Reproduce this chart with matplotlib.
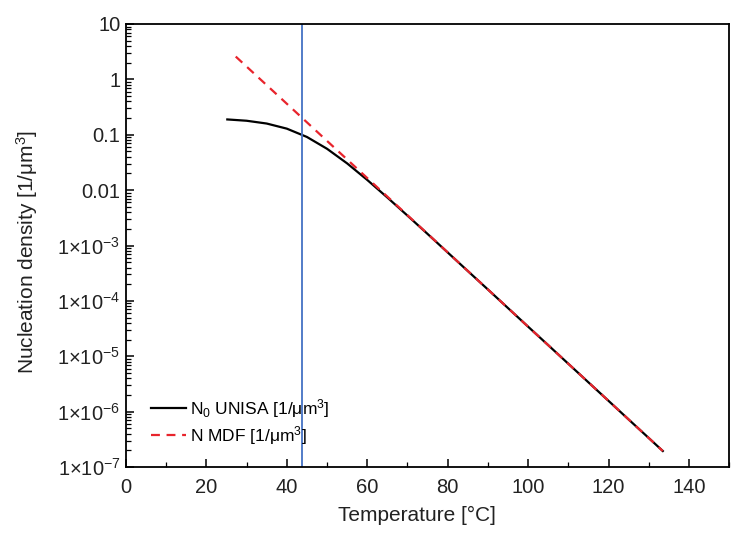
import numpy as np
import matplotlib
matplotlib.use('Agg')
import matplotlib.pyplot as plt
from matplotlib.ticker import FixedLocator, LogLocator, MultipleLocator, NullFormatter

plt.rcParams['font.family'] = ['Liberation Sans', 'DejaVu Sans']
plt.rcParams['mathtext.fontset'] = 'custom'
plt.rcParams['mathtext.rm'] = 'Liberation Sans'
plt.rcParams['mathtext.it'] = 'Liberation Sans:italic'

# N0 UNISA (black solid)
temp_unisa = [25.2, 30, 35, 40, 45, 50, 55, 60, 65, 70, 75, 80, 85, 90, 95,
              100, 105, 110, 115, 120, 125, 130, 133.5]
n_unisa = [0.189, 0.179, 0.1594, 0.1289, 0.0912, 0.0558, 0.0304, 0.01528,
           0.00736, 0.00347, 0.00162, 7.50e-4, 3.47e-4, 1.61e-4, 7.43e-5,
           3.43e-5, 1.59e-5, 7.34e-6, 3.39e-6, 1.57e-6, 7.24e-7, 3.35e-7, 1.95e-7]

# N MDF (red dashed)
temp_mdf = [27.3, 30, 35, 40, 45, 50, 55, 60, 65, 70, 75, 80, 85, 90, 95,
            100, 105, 110, 115, 120, 125, 130, 133.5]
n_mdf = [2.58, 1.70, 0.785, 0.363, 0.1676, 0.0774, 0.0358, 0.01654, 0.00764,
         0.00353, 0.00163, 7.53e-4, 3.48e-4, 1.61e-4, 7.43e-5, 3.43e-5,
         1.59e-5, 7.34e-6, 3.39e-6, 1.57e-6, 7.24e-7, 3.35e-7, 1.95e-7]

t_line = 43.8

y_ticks = [1e-7, 1e-6, 1e-5, 1e-4, 1e-3, 1e-2, 1e-1, 1, 10]
y_labels = [r'1$\times$10$^{-7}$', r'1$\times$10$^{-6}$', r'1$\times$10$^{-5}$',
            r'1$\times$10$^{-4}$', r'1$\times$10$^{-3}$', '0.01', '0.1', '1', '10']

fig = plt.figure(figsize=(7.41, 5.45), dpi=100)
ax = fig.add_axes([0.170, 0.143, 0.814, 0.813])

ax.plot(temp_unisa, n_unisa, color='black', lw=1.6, label=r'N$_0$ UNISA [1/$\mathrm{\mu}$m$^3$]')
ax.plot(temp_mdf, n_mdf, color='#e8242c', lw=1.6, ls=(0, (4, 3)), label=r'N MDF [1/$\mathrm{\mu}$m$^3$]')
ax.axvline(t_line, color='#4472c4', lw=1.3)

ax.set_yscale('log')
ax.set_xlim(0, 150)
ax.set_ylim(1e-7, 10)

ax.xaxis.set_major_locator(FixedLocator([0, 20, 40, 60, 80, 100, 120, 140]))
ax.xaxis.set_minor_locator(MultipleLocator(10))
ax.yaxis.set_major_locator(FixedLocator(y_ticks))
ax.set_yticklabels(y_labels)
ax.yaxis.set_minor_locator(LogLocator(base=10, subs=np.arange(2, 10), numticks=20))
ax.yaxis.set_minor_formatter(NullFormatter())

ax.tick_params(which='both', direction='in', top=False, right=False, labelsize=14.5, colors='#222222')
ax.tick_params(which='major', length=6, width=1.1, color='black')
ax.tick_params(which='minor', length=3.5, width=0.9, color='black')
ax.tick_params(axis='x', pad=8)
ax.tick_params(axis='y', pad=4)

for s in ax.spines.values():
    s.set_linewidth(1.3)

ax.set_xlabel('Temperature [°C]', fontsize=15, color='#222222')
ax.set_ylabel(r'Nucleation density [1/$\mathrm{\mu}$m$^3$]', fontsize=15, color='#222222')
ax.xaxis.set_label_coords(0.483, -0.088)
ax.yaxis.set_label_coords(-0.142, 0.485)

ax.legend(loc='lower left', bbox_to_anchor=(0.03, 0.03), frameon=False, fontsize=12.5,
          handlelength=2.0, handletextpad=0.25, labelspacing=0.25, borderaxespad=0)

fig.savefig('out.png', dpi=100)
